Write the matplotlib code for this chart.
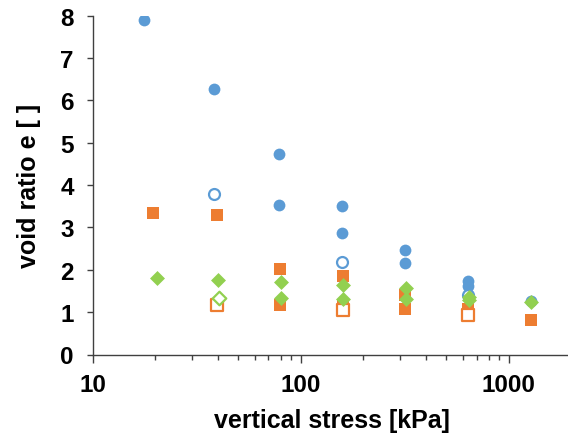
import matplotlib
matplotlib.use("Agg")
import matplotlib.pyplot as plt
from matplotlib.ticker import FixedLocator, LogLocator, NullFormatter

plt.rcParams['font.family'] = ['Liberation Sans', 'DejaVu Sans']
plt.rcParams['font.weight'] = 'bold'

BLUE = '#5B9BD5'
ORANGE = '#ED7D31'
GREEN = '#92D050'

# blue circles
blue_x = [17.7, 38.5, 78.5, 78.5, 158, 158, 317, 317, 637, 637, 1270]
blue_e = [7.90, 6.26, 4.73, 3.52, 3.50, 2.86, 2.46, 2.17, 1.73, 1.61, 1.26]
blue_open_x = [38.5, 158, 637]
blue_open_e = [3.78, 2.19, 1.40]

# orange squares
orange_x = [19.5, 39.8, 79.5, 79.5, 159, 159, 318, 318, 638, 638, 1275]
orange_e = [3.33, 3.29, 2.01, 1.16, 1.85, 1.14, 1.40, 1.08, 1.08, 0.93, 0.82]
orange_open_x = [39.8, 159, 638]
orange_open_e = [1.17, 1.06, 0.93]

# green diamonds
green_x = [20.4, 40.0, 80.4, 80.4, 160, 160, 320, 320, 645, 645, 1280]
green_e = [1.80, 1.77, 1.72, 1.34, 1.64, 1.32, 1.58, 1.32, 1.36, 1.28, 1.24]
green_open_x = [40.5]
green_open_e = [1.34]

x_ticks = [10, 100, 1000]
x_ticklabels = ['10', '100', '1000']
y_ticks = [0, 1, 2, 3, 4, 5, 6, 7, 8]

fig = plt.figure(figsize=(5.68, 4.35), dpi=100)
L = 92.5
ax = fig.add_axes([L/568, (435-355.5)/435, (571.6-L)/568, (355.5-16.7)/435])

ax.scatter(blue_x, blue_e, marker='o', s=72, color=BLUE, linewidths=0, zorder=3)
ax.scatter(blue_open_x, blue_open_e, marker='o', s=62, facecolors='white',
           edgecolors=BLUE, linewidths=1.6, zorder=3)
ax.scatter(orange_x, orange_e, marker='s', s=80, color=ORANGE, linewidths=0, zorder=4)
ax.scatter(orange_open_x, orange_open_e, marker='s', s=68, facecolors='white',
           edgecolors=ORANGE, linewidths=1.6, zorder=4)
ax.scatter(green_x, green_e, marker='D', s=58, color=GREEN, linewidths=0, zorder=5)
ax.scatter(green_open_x, green_open_e, marker='D', s=48, facecolors='white',
           edgecolors=GREEN, linewidths=1.6, zorder=5)

ax.set_xscale('log')
ax.set_xlim(10, 2000)
ax.set_ylim(0, 8)
ax.xaxis.set_major_locator(FixedLocator(x_ticks))
ax.set_xticklabels(x_ticklabels)
ax.xaxis.set_minor_locator(LogLocator(base=10, subs=range(2, 10)))
ax.xaxis.set_minor_formatter(NullFormatter())
ax.set_yticks(y_ticks)

for s in ['top', 'right']:
    ax.spines[s].set_visible(False)
for s in ['left', 'bottom']:
    ax.spines[s].set_color('#404040')
    ax.spines[s].set_linewidth(1.0)

ax.tick_params(axis='y', which='major', direction='out', length=4.5, width=1,
               color='#404040', labelsize=17.5, pad=9)
ax.tick_params(axis='x', which='major', direction='out', length=5.5, width=1,
               color='#404040', labelsize=17.5, pad=8)
ax.tick_params(axis='x', which='minor', direction='out', length=3.6, width=1,
               color='#404040')

ax.set_xlabel('vertical stress [kPa]', fontsize=18, fontweight='bold')
ax.set_ylabel('void ratio e [ ]', fontsize=18, fontweight='bold')
ax.xaxis.set_label_coords(0.5, -0.158)
ax.yaxis.set_label_coords(-0.107, 0.5)

fig.savefig('out.png', dpi=100)
